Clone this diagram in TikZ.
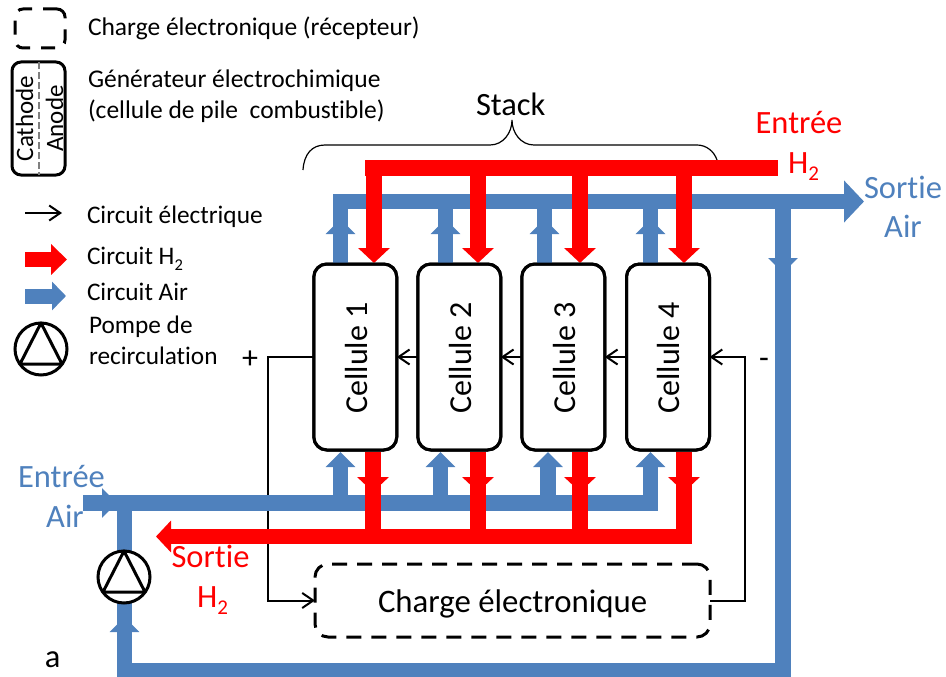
\documentclass[tikz,border=0pt]{standalone}
\usepackage{fontspec}
\setmainfont[Ligatures=NoCommon]{Carlito}
\usetikzlibrary{arrows.meta}
\definecolor{pipeblue}{HTML}{4F81BD}
\definecolor{pipered}{HTML}{FF0000}
\newcommand{\subtwo}[1]{\raisebox{-.24em}{\fontsize{#1}{#1}\selectfont 2}}
\tikzset{
  txt/.style={inner sep=0pt,outer sep=0pt,anchor=base west,font=\fontsize{#1}{#1}\selectfont},
  txtc/.style={inner sep=0pt,outer sep=0pt,anchor=base,font=\fontsize{#1}{#1}\selectfont},
  bluepipe/.style={draw=pipeblue,line width=15.5pt,line join=miter},
  redpipe/.style={draw=pipered,line width=16pt},
  bluehead/.style={-{Triangle[length=15pt,width=29pt,fill=pipeblue]}},
  redhead/.style={-{Triangle[length=15pt,width=31pt,fill=pipered]}},
  wire/.style={draw=black,line width=2pt},
  wirearrow/.style={wire,-{Straight Barb[length=11pt,width=15pt,line width=2pt]}},
  cell/.style={draw=black,fill=white,line width=3pt,rounded corners=13pt,minimum width=83pt,minimum height=186pt,inner sep=0pt,outer sep=0pt},
  dashbox/.style={draw=black,line width=3pt,rounded corners=13pt,dash pattern=on 15pt off 10pt,inner sep=0pt,outer sep=0pt},
  pumpc/.style={circle,draw=black,fill=white,line width=3pt,minimum size=52pt,inner sep=0pt,outer sep=0pt},
  pumpt/.style={draw=black,line width=3pt,line join=round},
  celltxt/.style={rotate=90,inner sep=0pt,anchor=base,font=\fontsize{32}{32}\selectfont}
}
\begin{document}
\begin{tikzpicture}[x=1pt,y=-1pt]
\useasboundingbox (0,0) rectangle (946,677);
% --- coordinates
\coordinate (wl) at (268,600.5);
\coordinate (wr) at (745,357);
% cells and load
\node[cell] (c1) at (355.3,357) {};
\node[cell] (c2) at (459.3,357) {};
\node[cell] (c3) at (563.3,357) {};
\node[cell] (c4) at (668,357) {};
\node[dashbox,minimum width=395pt,minimum height=73pt] (load) at (512.5,600.5) {};
% brace (under the pipes)
\coordinate (bA) at (303,170);
\coordinate (bB) at (325,145);
\coordinate (bC) at (490,145);
\coordinate (bD) at (512,120);
\coordinate (bE) at (534,145);
\coordinate (bF) at (697,145);
\coordinate (bG) at (717,160);
\draw[line width=1.2pt] (bA) .. controls (304,154) and (312,145) .. (bB) -- (bC)
  .. controls (503,145) and (512,133) .. (bD) .. controls (512,133) and (521,145) .. (bE)
  -- (bF) .. controls (706,145) and (714,151) .. (bG);
% electric circuit
\draw[wirearrow] (c1.west) -| (wl) -- (load.west);
\draw[wirearrow] (load.east) -| (wr) -- (c4.east);
\draw[wirearrow] (c2.west) -- (c1.east);
\draw[wirearrow] (c3.west) -- (c2.east);
\draw[wirearrow] (c4.west) -- (c3.east);
% --- air circuit
\coordinate (aT0) at (340.5,263);
\coordinate (aTc) at (340.5,201.5);
\coordinate (aTend) at (864,201.5);
\coordinate (aB0) at (83,503);
\coordinate (aBc) at (650.5,503);
\coordinate (aBt) at (650.5,465);
\coordinate (aR0) at (783,201.5);
\coordinate (aRb) at (783,670.5);
\coordinate (aLb) at (124.5,670.5);
\coordinate (aLt) at (124.5,503);
\draw[bluepipe,-{Triangle[length=20pt,width=41pt,fill=pipeblue]}] (aT0) -- (aTc) -- (aTend);
\draw[bluepipe] (aLt) -- (aLb) -- (aRb) -- (aR0);
\draw[bluepipe] (aB0) -- (aBc) -- (aBt);
\foreach \n/\xa/\xb in {1/340.5/340.5,2/445.5/440.5,3/544.5/548,4/650.5/650.5}{
  \coordinate (tu\n) at (\xa,219);
  \coordinate (tl\n) at (\xa,263);
  \coordinate (tt\n) at (\xa,201.5);
  \coordinate (bu\n) at (\xb,503);
  \coordinate (bl\n) at (\xb,452);
  \draw[bluepipe] (tl\n) -- (tt\n);
  \draw[bluepipe,bluehead] (tl\n) -- (tu\n);
  \draw[bluepipe,bluehead] (bu\n) -- (bl\n);
}
% mid arrowheads on air pipes
\coordinate (arT) at (783,230);
\coordinate (arH) at (783,273);
\draw[bluepipe,bluehead] (arT) -- (arH);
\coordinate (alT) at (124.5,660);
\coordinate (alH) at (124.5,617);
\draw[bluepipe,bluehead] (alT) -- (alH);
\coordinate (ahT) at (85,503);
\coordinate (ahH) at (117,503);
\draw[bluepipe,bluehead] (ahT) -- (ahH);
% --- hydrogen circuit
\coordinate (rT0) at (365,168);
\coordinate (rT1) at (778,168);
\draw[redpipe] (rT0) -- (rT1);
\foreach \n/\xa/\xb in {1/374/373,2/478/478,3/580/580,4/684/684}{
  \coordinate (ra\n) at (\xa,168);
  \coordinate (rb\n) at (\xa,263);
  \draw[redpipe,redhead] (ra\n) -- (rb\n);
  \coordinate (rc\n) at (\xb,452);
  \coordinate (rd\n) at (\xb,492);
  \coordinate (re\n) at (\xb,536.5);
  \draw[redpipe] (rc\n) -- (re\n);
  \draw[redpipe,redhead] (rc\n) -- (rd\n);
}
\coordinate (rB0) at (692,536.5);
\coordinate (rB1) at (156,536.5);
\draw[redpipe,line width=15.5pt,-{Triangle[length=15pt,width=31pt,fill=pipered]}] (rB0) -- (rB1);
% redraw cell outlines above tips
\foreach \n in {1,2,3,4}{ \draw[line width=3pt,rounded corners=13pt] (c\n.south west) rectangle (c\n.north east); }
% cell labels
\node[celltxt] (t1) at (367,358) {Cellule 1};
\node[celltxt] (t2) at (471,358) {Cellule 2};
\node[celltxt] (t3) at (575,358) {Cellule 3};
\node[celltxt] (t4) at (679,358) {Cellule 4};
\node[txt=32.8] (tload) at (378,612) {Charge électronique};
% pump
\node[pumpc] (pump) at (124,577) {};
\draw[pumpt] ([shift={(0,-26)}]pump.center) -- ([shift={(21,15)}]pump.center) -- ([shift={(-21,15)}]pump.center) -- cycle;
% labels on diagram
\node[txt=32.5] (tstack) at (476,115) {Stack};
\node[txtc=32.5,text=pipered] (te1) at (799,133) {Entrée};
\node[txt=32.5,text=pipered] (te2) at (788,173) {H\subtwo{21}};
\node[txtc=32.5,text=pipeblue] (ts1) at (903,198) {Sortie};
\node[txtc=32.5,text=pipeblue] (ts2) at (903,237) {Air};
\node[txtc=32.5,text=pipeblue] (ta1) at (61.5,487) {Entrée};
\node[txtc=32.5,text=pipeblue] (ta2) at (65,527) {Air};
\node[txtc=32.5,text=pipered] (tr1) at (210.5,567) {Sortie};
\node[txt=32.5,text=pipered] (tr2) at (197,607) {H\subtwo{21}};
\node[txt=32.5] (ta) at (45,667) {a};
\node[txtc=32] (tplus) at (250,368.5) {+};
\node[txtc=32] (tminus) at (764,368) {-};
% legend
\node[dashbox,minimum width=50pt,minimum height=39pt,rounded corners=8pt,dash pattern=on 14pt off 11pt] (lg1) at (40,28.5) {};
\node[draw=black,line width=3pt,rounded corners=9pt,minimum width=53pt,minimum height=113pt,inner sep=0pt,outer sep=0pt] (lg2) at (38.5,118.5) {};
\draw[draw=gray,line width=2pt,dash pattern=on 7pt off 3pt] (lg2.north) -- (lg2.south);
\node[rotate=90,inner sep=0pt,anchor=base,font=\fontsize{25}{25}\selectfont] (lc) at (33,118.5) {Cathode};
\node[rotate=90,inner sep=0pt,anchor=base,font=\fontsize{25}{25}\selectfont] (la) at (63,118.5) {Anode};
\node[txt=25.5] (l1) at (88,36) {Charge électronique (récepteur)};
\node[txt=25.5] (l2) at (88,88) {Générateur électrochimique};
\node[txt=25.5] (l3) at (88,118) {(cellule de pile\ \ combustible)};
\coordinate (le0) at (25,213);
\coordinate (le1) at (62,213);
\draw[wirearrow] (le0) -- (le1);
\node[txt=25.3] (l4) at (87,223) {Circuit électrique};
\coordinate (lr0) at (25,259.5);
\coordinate (lr1) at (67,259.5);
\draw[draw=pipered,line width=15pt,-{Triangle[length=16pt,width=30pt,fill=pipered]}] (lr0) -- (lr1);
\node[txt=25.3] (l5) at (87,264) {Circuit H\subtwo{16.5}};
\coordinate (lb0) at (25,296);
\coordinate (lb1) at (66,296);
\draw[draw=pipeblue,line width=15pt,-{Triangle[length=14pt,width=28pt,fill=pipeblue]}] (lb0) -- (lb1);
\node[txt=25.3] (l6) at (87,300) {Circuit Air};
\node[pumpc] (lpump) at (41,349) {};
\draw[pumpt] ([shift={(0,-26)}]lpump.center) -- ([shift={(21,15)}]lpump.center) -- ([shift={(-21,15)}]lpump.center) -- cycle;
\node[txt=25.3] (l7) at (89,333) {Pompe de};
\node[txt=25.3] (l8) at (89,364) {recirculation};
\end{tikzpicture}
\end{document}
